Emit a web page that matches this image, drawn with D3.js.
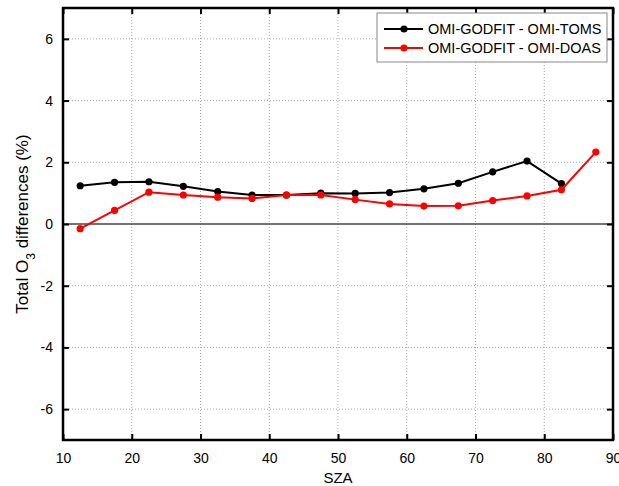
<!DOCTYPE html>
<html>
<head>
<meta charset="utf-8">
<script src="https://cdn.jsdelivr.net/npm/d3@7"></script>
<style>
  body { margin: 0; background: #fff; }
  text { font-family: "Liberation Sans", Arial, sans-serif; }
</style>
</head>
<body>
<div id="chart"></div>
<script>
const szaToms = [12.5, 17.5, 22.5, 27.5, 32.5, 37.5, 42.5, 47.5, 52.5, 57.5, 62.5, 67.5, 72.5, 77.5, 82.5];
const diffToms = [1.24, 1.35, 1.37, 1.22, 1.05, 0.94, 0.94, 1.0, 0.99, 1.02, 1.14, 1.32, 1.69, 2.04, 1.31];
const szaDoas = [12.5, 17.5, 22.5, 27.5, 32.5, 37.5, 42.5, 47.5, 52.5, 57.5, 62.5, 67.5, 72.5, 77.5, 82.5, 87.5];
const diffDoas = [-0.15, 0.44, 1.03, 0.94, 0.87, 0.83, 0.94, 0.94, 0.79, 0.65, 0.58, 0.59, 0.76, 0.91, 1.11, 2.33];
const xTicks = [10, 20, 30, 40, 50, 60, 70, 80, 90];
const yTicks = [-6, -4, -2, 0, 2, 4, 6];
const seriesNames = ["OMI-GODFIT - OMI-TOMS", "OMI-GODFIT - OMI-DOAS"];

const W = 619, H = 486;
const margin = { top: 8, right: 6, bottom: 46, left: 63 },
  width = W - margin.left - margin.right,
  height = H - margin.top - margin.bottom;

const svg = d3.select("#chart")
  .append("svg")
  .attr("width", W)
  .attr("height", H)
  .append("g")
  .attr("transform", `translate(${margin.left},${margin.top})`);

const x = d3.scaleLinear().domain([10, 90]).range([0, width]);
const y = d3.scaleLinear().domain([-7, 7]).range([height, 0]);

// grid
svg.append("g")
  .selectAll("line")
  .data(xTicks.slice(1, -1))
  .join("line")
  .attr("x1", d => x(d)).attr("x2", d => x(d))
  .attr("y1", 0).attr("y2", height)
  .attr("stroke", "#aaa")
  .attr("stroke-width", 1)
  .attr("stroke-dasharray", "1,2");

svg.append("g")
  .selectAll("line")
  .data(yTicks.filter(d => d !== 0))
  .join("line")
  .attr("x1", 0).attr("x2", width)
  .attr("y1", d => y(d)).attr("y2", d => y(d))
  .attr("stroke", "#aaa")
  .attr("stroke-width", 1)
  .attr("stroke-dasharray", "1,2");

// zero line
svg.append("line")
  .attr("x1", 0).attr("x2", width)
  .attr("y1", y(0)).attr("y2", y(0))
  .attr("stroke", "#444")
  .attr("stroke-width", 1.5);

// axes, ticks inward (plain hyphen for negatives, like the original)
const fmt = d => String(d);
const bottom = svg.append("g")
  .attr("transform", `translate(0,${height})`)
  .call(d3.axisBottom(x).tickValues(xTicks).tickSizeInner(-6).tickSizeOuter(0).tickPadding(13).tickFormat(fmt));
const left = svg.append("g")
  .call(d3.axisLeft(y).tickValues(yTicks).tickSizeInner(-6).tickSizeOuter(0).tickPadding(10).tickFormat(fmt));
svg.append("g")
  .call(d3.axisTop(x).tickValues(xTicks).tickSizeInner(-6).tickSizeOuter(0).tickFormat(""));
svg.append("g")
  .attr("transform", `translate(${width},0)`)
  .call(d3.axisRight(y).tickValues(yTicks).tickSizeInner(-6).tickSizeOuter(0).tickFormat(""));

svg.selectAll(".domain").remove();
svg.selectAll(".tick line").attr("stroke", "#000").attr("stroke-width", 2);
bottom.selectAll("text").style("font-size", "14px").attr("fill", "#000");
left.selectAll("text").style("font-size", "14px").attr("fill", "#000");

// frame
svg.append("rect")
  .attr("width", width).attr("height", height)
  .attr("fill", "none")
  .attr("stroke", "#000")
  .attr("stroke-width", 2.5);

// lines
const series = [
  { name: seriesNames[0], xs: szaToms, ys: diffToms, color: "#000" },
  { name: seriesNames[1], xs: szaDoas, ys: diffDoas, color: "#ff0000" }
];

const line = d3.line().x(d => x(d[0])).y(d => y(d[1]));

series.forEach(s => {
  const pts = s.xs.map((v, i) => [v, s.ys[i]]);
  svg.append("path")
    .datum(pts)
    .attr("d", line)
    .attr("fill", "none")
    .attr("stroke", s.color)
    .attr("stroke-width", 2);
  svg.append("g")
    .selectAll("circle")
    .data(pts)
    .join("circle")
    .attr("cx", d => x(d[0]))
    .attr("cy", d => y(d[1]))
    .attr("r", 3.6)
    .attr("fill", s.color);
});

// legend
const lg = svg.append("g").attr("transform", `translate(${377 - margin.left},${13 - margin.top})`);
lg.append("rect")
  .attr("width", 230).attr("height", 49)
  .attr("fill", "#fff")
  .attr("stroke", "#888")
  .attr("stroke-width", 1);
series.forEach((s, i) => {
  const yy = 16 + i * 19;
  lg.append("line")
    .attr("x1", 7).attr("x2", 46)
    .attr("y1", yy).attr("y2", yy)
    .attr("stroke", s.color).attr("stroke-width", 2);
  lg.append("circle").attr("cx", 27).attr("cy", yy).attr("r", 3.6).attr("fill", s.color);
  lg.append("text")
    .attr("x", 51).attr("y", yy)
    .attr("dy", "0.35em")
    .style("font-size", "14.5px")
    .text(s.name);
});

// axis labels
svg.append("text")
  .attr("text-anchor", "middle")
  .attr("x", width / 2)
  .attr("y", height + 43)
  .style("font-size", "15px")
  .text("SZA");

const yl = svg.append("text")
  .attr("text-anchor", "middle")
  .attr("transform", `translate(${28 - margin.left},${y(0)})rotate(-90)`)
  .style("font-size", "17px");
yl.append("tspan").text("Total O");
yl.append("tspan").attr("baseline-shift", "sub").style("font-size", "12px").text("3");
yl.append("tspan").text(" differences (%)");
</script>
</body>
</html>
